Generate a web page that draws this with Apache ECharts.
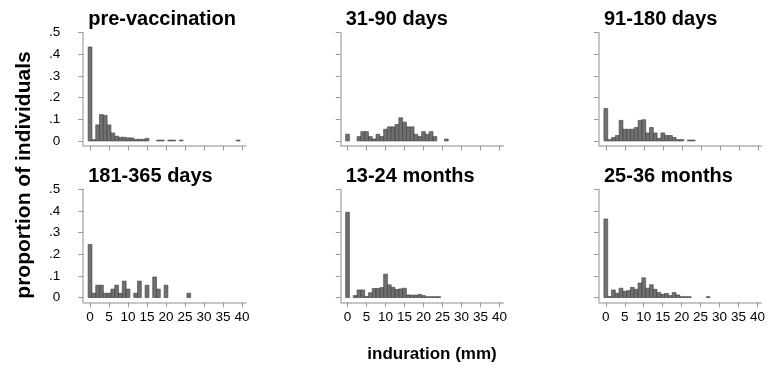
<!DOCTYPE html>
<html>
<head>
<meta charset="utf-8">
<script src="https://cdn.jsdelivr.net/npm/echarts@6/dist/echarts.min.js"></script>
<style>
html, body { margin: 0; padding: 0; background: #fff; }
#chart { width: 768px; height: 372px; }
</style>
</head>
<body>
<div id="chart"></div>
<script>
// proportion of individuals per mm of induration (index = mm)
const panelTitles = ['pre-vaccination', '31-90 days', '91-180 days', '181-365 days', '13-24 months', '25-36 months'];

const preVaccination = [0.434, 0.006, 0.074, 0.122, 0.118, 0.074, 0.037, 0.022, 0.017, 0.017,
    0.014, 0.014, 0.007, 0.008, 0.007, 0.012, 0, 0, 0.004, 0.004,
    0, 0.004, 0.004, 0, 0.004, 0, 0, 0, 0, 0,
    0, 0, 0, 0, 0, 0, 0, 0, 0, 0.004];
const days31to90 = [0.031, 0, 0, 0.02, 0.043, 0.043, 0.02, 0.009, 0.031, 0.02,
    0.054, 0.065, 0.065, 0.076, 0.107, 0.087, 0.065, 0.065, 0.031, 0.02,
    0.043, 0.031, 0.043, 0.02, 0, 0, 0.009];
const days91to180 = [0.15, 0.006, 0.016, 0.025, 0.095, 0.054, 0.054, 0.054, 0.062, 0.095,
    0.098, 0.037, 0.062, 0.037, 0.012, 0.037, 0.025, 0.025, 0.016, 0.006,
    0.006, 0, 0.004, 0.004];
const days181to365 = [0.245, 0.02, 0.057, 0.057, 0.02, 0.02, 0.039, 0.057, 0.02, 0.076,
    0.039, 0, 0.02, 0.076, 0, 0.057, 0, 0.095, 0.039, 0,
    0.057, 0, 0, 0, 0, 0, 0.02];
const months13to24 = [0.394, 0, 0.009, 0.035, 0.035, 0.005, 0.022, 0.042, 0.042, 0.046,
    0.108, 0.059, 0.047, 0.037, 0.04, 0.043, 0.012, 0.011, 0.011, 0.014,
    0.009, 0.004, 0.004, 0.004, 0.004];
const months25to36 = [0.363, 0.005, 0.035, 0.02, 0.043, 0.029, 0.032, 0.047, 0.038, 0.067,
    0.091, 0.043, 0.059, 0.038, 0.023, 0.015, 0.019, 0.009, 0.023, 0.012,
    0.004, 0.004, 0.004, 0, 0, 0, 0, 0.004];

const panelData = [preVaccination, days31to90, days91to180, days181to365, months13to24, months25to36];

const xTicks = [0, 5, 10, 15, 20, 25, 30, 35, 40];
const yTicks = [0, 0.1, 0.2, 0.3, 0.4, 0.5];
const yTickLabels = ['0', '.1', '.2', '.3', '.4', '.5'];

const colLeft = [83.2, 340.7, 599];
const rowTop = [32.7, 189.3];
const plotWidth = 162.6;
const plotHeight = 113;

const font = 'Liberation Sans, Arial, Helvetica, sans-serif';
const axisGrey = '#b4b4b4';

var dom = document.getElementById('chart');
var myChart = echarts.init(dom, null, { renderer: 'canvas' });

function renderBar(params, api) {
    const mm = api.value(0);
    const v = api.value(1);
    const topLeft = api.coord([mm - 0.5, v]);
    const bottomRight = api.coord([mm + 0.5, 0]);
    return {
        type: 'rect',
        shape: {
            x: topLeft[0],
            y: topLeft[1],
            width: bottomRight[0] - topLeft[0],
            height: bottomRight[1] - topLeft[1]
        },
        style: { fill: '#707070', stroke: '#3a3a3a', lineWidth: 0.6 }
    };
}

const grids = [], xAxes = [], yAxes = [], series = [], titles = [];

panelData.forEach(function (values, i) {
    const row = Math.floor(i / 3);
    const col = i % 3;
    grids.push({
        left: colLeft[col],
        top: rowTop[row],
        width: plotWidth,
        height: plotHeight
    });
    xAxes.push({
        type: 'value',
        gridIndex: i,
        min: -1.8,
        max: 41,
        splitLine: { show: false },
        axisLine: { show: true, onZero: false, lineStyle: { color: axisGrey, width: 1.5 } },
        axisTick: { show: true, customValues: xTicks, length: 5, lineStyle: { color: '#9a9a9a' } },
        axisLabel: {
            show: row === 1,
            customValues: xTicks,
            margin: 8,
            color: '#000',
            fontFamily: font,
            fontSize: 13.5
        }
    });
    yAxes.push({
        type: 'value',
        gridIndex: i,
        min: -0.022,
        max: 0.5,
        splitLine: { show: false },
        axisLine: { show: true, onZero: false, lineStyle: { color: axisGrey, width: 1.5 } },
        axisTick: { show: true, customValues: yTicks, length: 5, lineStyle: { color: '#9a9a9a' } },
        axisLabel: {
            show: col === 0,
            customValues: yTicks,
            margin: 23,
            color: '#000',
            fontFamily: font,
            fontSize: 13.5,
            formatter: function (v) { return yTickLabels[yTicks.indexOf(v)] ?? ''; }
        }
    });
    const points = [];
    values.forEach(function (v, mm) { if (v > 0) points.push([mm, v]); });
    series.push({
        type: 'custom',
        xAxisIndex: i,
        yAxisIndex: i,
        renderItem: renderBar,
        encode: { x: 0, y: 1 },
        data: points,
        silent: true
    });
    titles.push({
        text: panelTitles[i],
        left: colLeft[col] + 5,
        top: row === 0 ? 9 : 166,
        padding: 0,
        textStyle: { fontFamily: font, fontWeight: 'bold', fontSize: 20, color: '#000' }
    });
});

const option = {
    animation: false,
    title: titles,
    grid: grids,
    xAxis: xAxes,
    yAxis: yAxes,
    series: series,
    graphic: [
        {
            type: 'text',
            x: 24,
            y: 175,
            rotation: Math.PI / 2,
            style: {
                text: 'proportion of individuals',
                fontFamily: font,
                fontWeight: 'bold',
                fontSize: 21,
                fill: '#000',
                align: 'center',
                verticalAlign: 'middle'
            }
        },
        {
            type: 'text',
            x: 432,
            y: 354,
            style: {
                text: 'induration (mm)',
                fontFamily: font,
                fontWeight: 'bold',
                fontSize: 17,
                fill: '#000',
                align: 'center',
                verticalAlign: 'middle'
            }
        }
    ]
};

myChart.setOption(option);
window.addEventListener('resize', myChart.resize);
</script>
</body>
</html>
